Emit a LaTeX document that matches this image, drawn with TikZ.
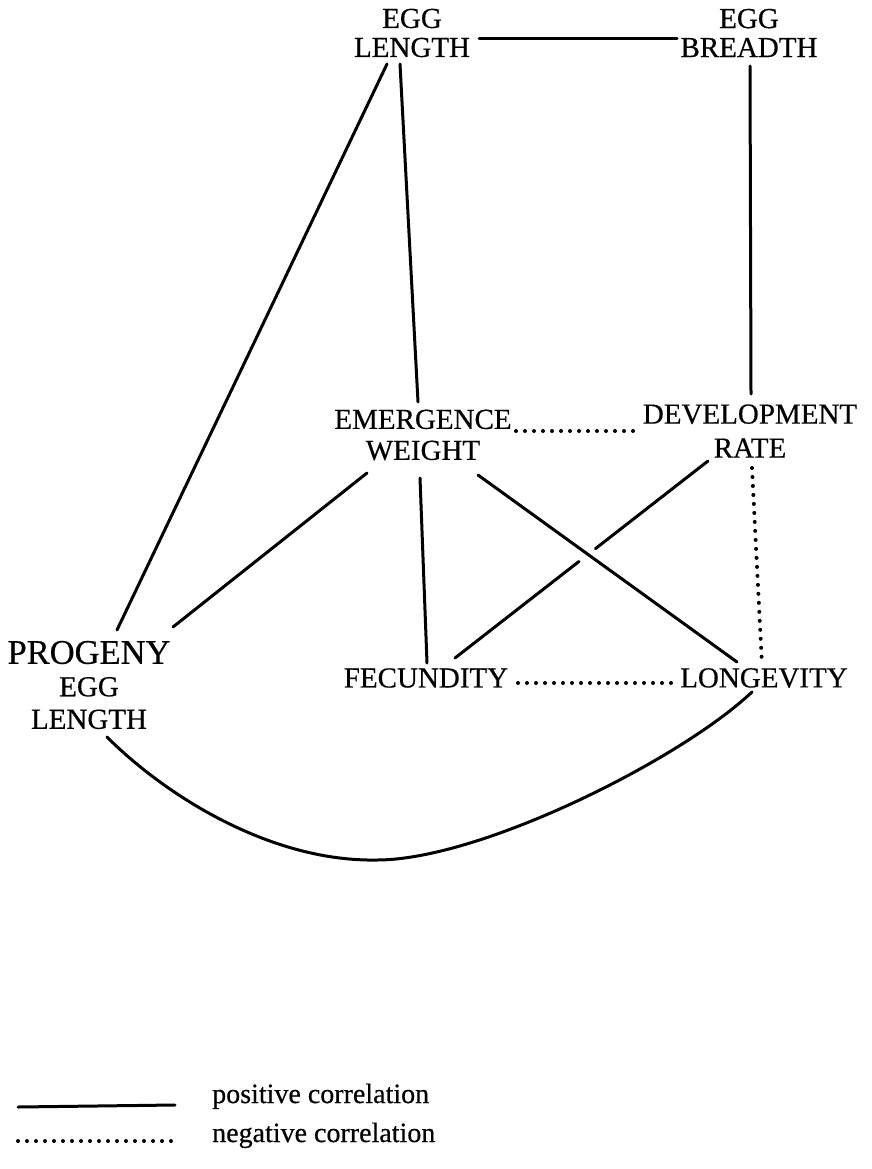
\documentclass[tikz,border=0pt]{standalone}
\usepackage{fontspec}
\setmainfont{Liberation Serif}
\newfontfamily\scanfont{Liberation Serif}[FakeBold=0.5]
\usetikzlibrary{calc}
\begin{document}
\begin{tikzpicture}[x=1pt,y=-1pt,
  lab/.style={inner sep=0pt, align=center, font=\scanfont\fontsize{29}{34}\selectfont},
  posline/.style={line width=3pt, line cap=round},
  negline/.style={line width=4pt, line cap=round, dash pattern=on 0pt off 9pt},
]
\fill[white] (0,0) rectangle (871,1169);
\useasboundingbox (0,0) rectangle (871,1169);

% nodes
\node[lab, font=\scanfont\fontsize{29}{29}\selectfont] (EL) at (412,33) {EGG\\LENGTH};
\node[lab, font=\scanfont\fontsize{29}{29}\selectfont] (EB) at (749,33) {EGG\\BREADTH};
\node[lab, font=\scanfont\fontsize{29}{31}\selectfont] (EW) at (423,435) {EMERGENCE\\WEIGHT};
\node[lab, font=\scanfont\fontsize{29}{34}\selectfont] (DR) at (750,431) {DEVELOPMENT\\RATE};
\node[lab, font=\scanfont\fontsize{29}{32.5}\selectfont] (PEL) at (89,685) {{\fontsize{34.5}{32.5}\selectfont PROGENY}\\EGG\\LENGTH};
\node[lab] (FEC) at (426,678) {FECUNDITY};
\node[lab] (LON) at (764,678) {LONGEVITY};

% positive correlations
\draw[posline] ($(EL)+(67,6)$) -- ($(EB)+(-72,6)$);
\draw[posline] ($(EL)+(-12,31)$) -- ($(EW)+(-5,-33)$);
\draw[posline] ($(EL)+(-25,31)$) -- ($(PEL)+(28,-55)$);
\draw[posline] ($(EB)+(1,33)$) -- ($(DR)+(1,-37)$);
\draw[posline] ($(EW)+(-56,38)$) -- ($(PEL)+(84,-58)$);
\draw[posline] ($(EW)+(-3,43)$) -- ($(FEC)+(1,-15)$);
\draw[posline] ($(EW)+(55,40)$) -- ($(LON)+(-27,-16)$);
\draw[posline] ($(DR)+(-42,30)$) -- ($($(DR)+(-42,30)$)!0.445!($(FEC)+(29,-20)$)$);
\draw[posline] ($($(DR)+(-42,30)$)!0.51!($(FEC)+(29,-20)$)$) -- ($(FEC)+(29,-20)$);
\draw[posline] ($(PEL)+(18,52)$) .. controls ($(PEL)+(76,110)$) and (270,862) .. (377,860)
   .. controls (480,860) and ($(LON)+(-84,82)$) .. ($(LON)+(-12,14)$);

% negative correlations
\draw[negline] ($(EW)+(93,-4)$) -- ($(DR)+(-114,0)$);
\draw[negline] ($(DR)+(2,37)$) -- ($(LON)+(-2,-13)$);
\draw[negline] ($(FEC)+(92,5)$) -- ($(LON)+(-87,5)$);

% legend
\node[inner sep=0pt, anchor=base west, font=\scanfont\fontsize{28}{34}\selectfont] (ptext) at (212,1103) {positive correlation};
\node[inner sep=0pt, anchor=base west, font=\scanfont\fontsize{28}{34}\selectfont] (ntext) at (212,1142) {negative correlation};
\draw[posline] ($(ptext.base west)+(-194,4)$) -- ($(ptext.base west)+(-37,2)$);
\draw[negline] ($(ntext.base west)+(-194,-1)$) -- ($(ntext.base west)+(-37,-1)$);
\end{tikzpicture}
\end{document}
